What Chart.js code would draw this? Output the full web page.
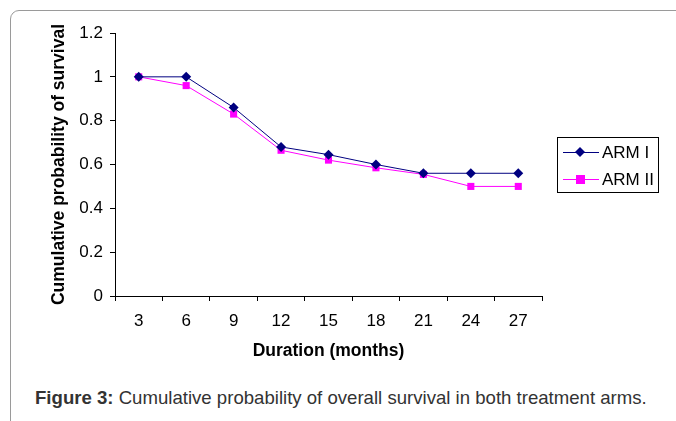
<!DOCTYPE html>
<html>
<head>
<meta charset="utf-8">
<script src="https://cdn.jsdelivr.net/npm/chart.js@4"></script>
<style>
  html, body { margin: 0; padding: 0; background: #fff; }
  body { width: 676px; height: 421px; position: relative; overflow: hidden; font-family: "Liberation Sans", Arial, sans-serif; }
  .frame { position: absolute; left: 10px; top: 10px; width: 700px; height: 450px; border: 1px solid #9a9a9a; border-radius: 9px 0 0 0; }
  #wrap { position: absolute; left: 0; top: 0; width: 676px; height: 366px; }
  .caption { position: absolute; left: 35px; top: 387px; font-size: 18.6px; color: #333; white-space: nowrap; }
  .caption b { font-weight: bold; }
</style>
</head>
<body>
<div class="frame"></div>
<div id="wrap"><canvas id="chart"></canvas></div>
<div class="caption"><b>Figure 3:</b> Cumulative probability of overall survival in both treatment arms.</div>
<script>
const months = ['3', '6', '9', '12', '15', '18', '21', '24', '27'];
const armOne = [1.0, 1.0, 0.86, 0.68, 0.645, 0.60, 0.56, 0.56, 0.56];
const armTwo = [1.0, 0.96, 0.83, 0.665, 0.62, 0.585, 0.555, 0.50, 0.50];
const yTicks = [0, 0.2, 0.4, 0.6, 0.8, 1, 1.2];

const font = "'Liberation Sans', Arial, sans-serif";

// legend box like the excel one, drawn on the canvas
const boxLegend = {
    id: 'boxLegend',
    afterDraw(chart) {
        const c = chart.ctx;
        const x = 557, y = 137, w = 101, h = 55;
        c.save();
        c.strokeStyle = '#000';
        c.lineWidth = 1;
        c.strokeRect(x + 0.5, y + 0.5, w, h);
        c.font = '17px ' + font;
        c.textBaseline = 'middle';
        chart.data.datasets.forEach((ds, i) => {
            const ly = y + 15 + i * 27;
            c.strokeStyle = ds.borderColor;
            c.lineWidth = 1;
            c.beginPath();
            c.moveTo(x + 6, ly + 0.5);
            c.lineTo(x + 42, ly + 0.5);
            c.stroke();
            c.fillStyle = ds.borderColor;
            const cx = x + 23;
            if (ds.pointStyle === 'rect') {
                c.fillRect(cx - 4, ly - 4, 9, 9);
            } else {
                c.beginPath();
                c.moveTo(cx, ly - 5);
                c.lineTo(cx + 5, ly);
                c.lineTo(cx, ly + 5);
                c.lineTo(cx - 5, ly);
                c.closePath();
                c.fill();
            }
            c.fillStyle = '#000';
            c.fillText(ds.label, x + 45, ly + 1);
        });
        c.restore();
    }
};

new Chart(document.getElementById('chart'), {
    type: 'line',
    data: {
        labels: months,
        datasets: [
            {
                label: 'ARM I',
                data: armOne,
                borderColor: '#000080',
                backgroundColor: '#000080',
                borderWidth: 1,
                pointStyle: 'rectRot',
                pointRadius: 5,
                pointBorderWidth: 0
            },
            {
                label: 'ARM II',
                data: armTwo,
                borderColor: '#ff00ff',
                backgroundColor: '#ff00ff',
                borderWidth: 1,
                pointStyle: 'rect',
                pointRadius: 5,
                pointBorderWidth: 0
            }
        ]
    },
    options: {
        responsive: true,
        maintainAspectRatio: false,
        animation: false,
        layout: { padding: { left: 45, top: 33, right: 134, bottom: 0 } },
        plugins: {
            legend: { display: false },
            tooltip: { enabled: false }
        },
        scales: {
            x: {
                offset: true,
                afterFit: (s) => { s.height = 70; },
                grid: {
                    offset: true,
                    drawOnChartArea: false,
                    drawTicks: true,
                    tickLength: 5,
                    color: '#000'
                },
                border: { color: '#000', width: 1 },
                ticks: { color: '#000', font: { family: font, size: 17 }, padding: 10, maxRotation: 0 },
                title: {
                    display: true,
                    text: 'Duration (months)',
                    color: '#000',
                    font: { family: font, size: 17.5, weight: 'bold' },
                    padding: { top: 4, bottom: 4 }
                }
            },
            y: {
                min: 0,
                max: 1.2,
                afterFit: (s) => { s.width = 70; },
                afterBuildTicks: (s) => { s.ticks = yTicks.map(v => ({ value: v })); },
                grid: {
                    drawOnChartArea: false,
                    drawTicks: true,
                    tickLength: 5,
                    color: '#000'
                },
                border: { color: '#000', width: 1 },
                ticks: {
                    color: '#000',
                    font: { family: font, size: 17 },
                    padding: 7,
                    callback: (v) => String(Math.round(v * 10) / 10)
                },
                title: {
                    display: true,
                    text: 'Cumulative probability of survival',
                    color: '#000',
                    font: { family: font, size: 17.5, weight: 'bold' },
                    padding: { top: 4, bottom: 4 }
                }
            }
        }
    },
    plugins: [boxLegend]
});
</script>
</body>
</html>
